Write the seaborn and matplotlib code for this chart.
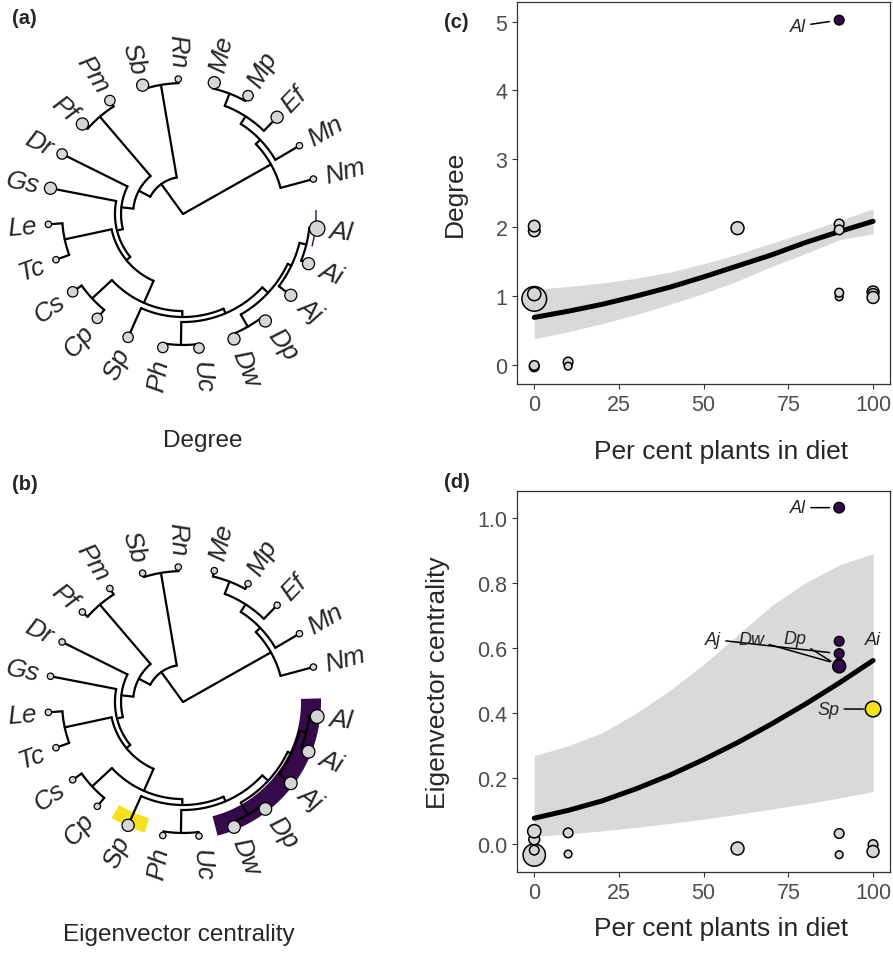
import numpy as np
import pandas as pd
import matplotlib
matplotlib.use("Agg")
import matplotlib.pyplot as plt
import seaborn as sns

# ---------------- tree data ----------------
# species in tip order round the fan (counter-clockwise from the open gap)
tips = ["Nm", "Mn", "Ef", "Mp", "Me", "Rn", "Sb", "Pm", "Pf", "Dr", "Gs", "Le",
        "Tc", "Cs", "Cp", "Sp", "Ph", "Uc", "Dw", "Dp", "Aj", "Ai", "Al"]
tip_degree = [0, 0, 2, 1, 2, 0, 2, 1, 2, 1, 2, 0,
              0, 1, 1, 1, 1, 1, 2, 2, 2, 2, 5]
tip_eigen = [0, 0, 0, 0, 0, 0, 0, 0, 0, 0, 0, 0,
             0, 0, 0, 0.41, 0, 0, 0.55, 0.54, 0.58, 0.62, 1.03]

# internal nodes (children listed before parents), depth as fraction of tip depth
node_names = ["N4", "N3", "N2", "N1", "RS", "PP", "LT", "CC", "PU", "DD", "AA",
              "M", "L", "K", "J", "I", "G", "F", "E", "C", "B", "root"]
node_children = [("Mp", "Me"), ("Ef", "N4"), ("Mn", "N3"), ("Nm", "N2"),
                 ("Rn", "Sb"), ("Pm", "Pf"), ("Le", "Tc"), ("Cs", "Cp"),
                 ("Ph", "Uc"), ("Dw", "Dp"), ("Ai", "Al"), ("Aj", "AA"),
                 ("DD", "M"), ("PU", "L"), ("Sp", "K"), ("CC", "J"),
                 ("LT", "I"), ("Gs", "G"), ("Dr", "F"), ("PP", "E"),
                 ("RS", "C"), ("N1", "B")]
node_depth = [0.956, 0.859, 0.793, 0.748, 0.970, 0.948, 0.896, 0.919, 0.970,
              0.963, 0.941, 0.889, 0.859, 0.800, 0.763, 0.719, 0.541, 0.504,
              0.459, 0.370, 0.274, 0.0]

hub_clade = ["Dw", "Dp", "Aj", "Ai", "Al"]
sp_clade = ["Sp"]

# ---------------- scatter data ----------------
plants_c = [0, 0, 0, 0, 0, 0, 10, 10, 60, 90, 90, 90, 90, 100, 100, 100, 90]
degree_c = [1.95, 2.02, 0.96, 1.03, -0.03, -0.01, 0.04, -0.02, 1.99,
            2.05, 1.965, 0.99, 1.05, 1.06, 1.03, 0.98, 5.02]
weight_c = [1.6, 1.6, 7.3, 2.1, 1.1, 1.1, 1.1, 0.7, 2.0,
            1.1, 1.1, 0.7, 0.9, 1.7, 1.4, 1.7, 1.1]
group_c = ["other"] * 16 + ["hub"]
label_c = [""] * 16 + ["Al"]

plants_d = [0, 0, 0, 0, 10, 10, 60, 90, 90, 100, 100, 90, 90, 90, 90, 90, 100]
eigen_d = [-0.035, -0.02, 0.013, 0.038, 0.033, -0.032, -0.015, 0.031, -0.034,
           -0.003, -0.024, 1.031, 0.621, 0.583, 0.55, 0.544, 0.413]
weight_d = [6.0, 1.1, 1.4, 2.1, 1.1, 0.7, 2.0, 1.1, 0.7, 1.1, 1.7,
            1.3, 1.1, 1.1, 1.4, 2.0, 2.9]
group_d = ["other"] * 11 + ["hub"] * 5 + ["sp"]
label_d = [""] * 11 + ["Al", "Ai", "Aj", "Dw", "Dp", "Sp"]

# fitted curves
fit_x = [0, 10, 20, 30, 40, 50, 60, 70, 80, 90, 100]
fit_c = [0.69, 0.78, 0.88, 1.00, 1.13, 1.28, 1.44, 1.60, 1.78, 1.94, 2.09]
lo_c = [0.38, 0.48, 0.60, 0.73, 0.88, 1.04, 1.22, 1.43, 1.62, 1.82, 1.91]
hi_c = [1.10, 1.14, 1.19, 1.26, 1.35, 1.47, 1.61, 1.77, 1.93, 2.10, 2.27]
fit_d = [0.078, 0.102, 0.131, 0.168, 0.210, 0.258, 0.310, 0.367, 0.428, 0.493, 0.562]
lo_d = [0.022, 0.030, 0.039, 0.050, 0.062, 0.075, 0.090, 0.106, 0.122, 0.140, 0.160]
hi_d = [0.27, 0.30, 0.34, 0.40, 0.47, 0.55, 0.64, 0.73, 0.80, 0.855, 0.89]

PURPLE = "#35094a"
YELLOW = "#f7e11f"
GREY = "#d6d6d6"
R_TIP = 135
START, STEP = 15.0, 15.4

sns.set_theme(style="white")
plt.rcParams["font.family"] = ["Liberation Sans", "DejaVu Sans"]

fig = plt.figure(figsize=(8.93, 9.54), dpi=100)
W, H = 893, 954


def polar(r, a):
    a = np.radians(a)
    return r * np.cos(a), r * np.sin(a)


def tree_layout():
    ang = {t: START + i * STEP for i, t in enumerate(tips)}
    rad = {t: R_TIP for t in tips}
    for name, kids, d in zip(node_names, node_children, node_depth):
        ang[name] = np.mean([ang[k] for k in kids])
        rad[name] = d * R_TIP
    return ang, rad


def sector(ax, a0, a1, r0, r1, color, z=0):
    th = np.linspace(a0, a1, 80)
    xo, yo = polar(r1, th)
    xi, yi = polar(r0, th[::-1])
    ax.fill(np.r_[xo, xi], np.r_[yo, yi], color=color, lw=0, zorder=z)


def draw_tree(ax, sizes, title, title_xy):
    ang, rad = tree_layout()
    for name, kids in zip(node_names, node_children):
        r0 = rad[name]
        al = [ang[k] for k in kids]
        if r0 > 0:
            th = np.linspace(min(al), max(al), 60)
            ax.plot(*polar(r0, th), color="black", lw=1.6, zorder=2,
                    solid_capstyle="round")
        for k in kids:
            x0, y0 = polar(r0, ang[k])
            x1, y1 = polar(rad[k], ang[k])
            ax.plot([x0, x1], [y0, y1], color="black", lw=1.6, zorder=2,
                    solid_capstyle="round")
    xs, ys = polar(R_TIP, np.array([ang[t] for t in tips]))
    ax.scatter(xs, ys, s=sizes, facecolor=GREY, edgecolor="black",
               linewidth=0.9, zorder=3)
    for t in tips:
        a = ang[t] % 360
        x, y = polar(147, a)
        if 90 < a < 270:
            rot, ha = a - 180, "right"
        else:
            rot, ha = (a if a < 90 else a - 360), "left"
        ax.text(x, y, t, rotation=rot, ha=ha, va="center",
                rotation_mode="anchor", fontsize=19, fontstyle="italic")
    ax.text(title_xy[0], title_xy[1], title, ha="center", va="center",
            fontsize=17.5)
    ax.axis("off")
    return ang


def deg_size(v):
    d = 6 + 9 * np.sqrt(np.asarray(v) / 5.0)
    return (0.72 * (d + 0.4)) ** 2


def eig_size(v):
    v = np.asarray(v, dtype=float)
    d = np.where(v > 0, 6 + 7.3 * (v / v.max()) ** 0.25, 6.0)
    return (0.72 * (d + 0.4)) ** 2


# ---- (a) tree: degree ----
ax_a = fig.add_axes([0, 1 - 470 / H, 420 / W, 470 / H])
ax_a.set_xlim(-183, 237)
ax_a.set_ylim(-255, 215)
ang = draw_tree(ax_a, deg_size(tip_degree), "Degree", (20, -226))
a_al = ang["Al"]
th = np.linspace(a_al - STEP / 2, a_al + STEP / 2, 30)
ax_a.plot(*polar(133, th), color=PURPLE, lw=1.0, zorder=1)

# ---- (b) tree: eigenvector centrality ----
ax_b = fig.add_axes([0, 0, 420 / W, 477 / H])
ax_b.set_xlim(-183, 237)
ax_b.set_ylim(-251, 226)
ang, _ = tree_layout()
hub_a = [ang[t] for t in hub_clade]
sector(ax_b, min(hub_a) - STEP / 2, max(hub_a) + STEP / 2, 118, 138, PURPLE)
sp_a = [ang[t] for t in sp_clade]
sector(ax_b, min(sp_a) - STEP / 2, max(sp_a) + STEP / 2, 121, 136, YELLOW)
draw_tree(ax_b, eig_size(tip_eigen), "Eigenvector centrality", (-4, -232))

# ---- scatter panels ----
palette = {"other": GREY, "hub": PURPLE, "sp": YELLOW}


def scatter_panel(rect, xs, ys, ws, groups, labels, fy, lo, hi, ylim, yticks,
                  yfmt, ylabel, ylab_x, xlab_y, offsets):
    ax = fig.add_axes(rect)
    ax.fill_between(fit_x, lo, hi, color="#d9d9d9", lw=0, zorder=1)
    sns.lineplot(x=fit_x, y=fy, color="black", lw=3.6, ax=ax, zorder=2)
    df = pd.DataFrame({"x": xs, "y": ys, "w": ws, "g": groups, "lab": labels})
    sns.scatterplot(data=df, x="x", y="y", size="w", sizes=(22, 345),
                    size_norm=(0.5, 8.0), hue="g", palette=palette,
                    edgecolor="black", linewidth=1.1, legend=False, ax=ax,
                    zorder=3)
    for _, row in df[df["lab"] != ""].iterrows():
        dx, dy, arrow = offsets[row["lab"]]
        props = dict(arrowstyle="-", color="black", lw=1.1, shrinkA=1,
                     shrinkB=7) if arrow else None
        ax.annotate(row["lab"], xy=(row["x"], row["y"]), xytext=(dx, dy),
                    textcoords="offset points", ha="center", va="center",
                    fontsize=13, fontstyle="italic", arrowprops=props,
                    zorder=4)
    ax.set_xlim(-5, 105)
    ax.set_ylim(*ylim)
    ax.set_xticks([0, 25, 50, 75, 100])
    ax.set_yticks(yticks)
    ax.set_yticklabels([yfmt.format(v) for v in yticks])
    ax.tick_params(length=3.6, width=0.8, color="#333333", labelsize=15.5,
                   labelcolor="#4d4d4d", pad=3.5, left=True, bottom=True)
    for s in ax.spines.values():
        s.set_color("#333333")
        s.set_linewidth(0.9)
    ax.set_xlabel("Per cent plants in diet", fontsize=19)
    ax.set_ylabel(ylabel, fontsize=19)
    ax.xaxis.set_label_coords(0.547, xlab_y)
    ax.yaxis.set_label_coords(ylab_x, 0.5)
    return ax


off_c = {"Al": (-29.5, -4.3, True)}
scatter_panel([517.3 / W, 1 - 385 / H, 372.7 / W, 381.7 / H],
              plants_c, degree_c, weight_c, group_c, label_c,
              fit_c, lo_c, hi_c, (-0.28, 5.28), [0, 1, 2, 3, 4, 5], "{:.0f}",
              "Degree", -0.135, -0.144, off_c)

off_d = {"Al": (-29.5, 0, True), "Ai": (24.5, 1.2, False),
         "Aj": (-90.7, 10.2, True), "Dw": (-63.1, 17.9, True),
         "Dp": (-31.9, 19.8, True), "Sp": (-32, 0, True)}
scatter_panel([517.3 / W, 1 - 873.3 / H, 372.7 / W, 381.6 / H],
              plants_d, eigen_d, weight_d, group_d, label_d,
              fit_d, lo_d, hi_d, (-0.088, 1.083), [0, 0.2, 0.4, 0.6, 0.8, 1.0],
              "{:.1f}", "Eigenvector centrality", -0.18, -0.114, off_d)

# panel letters
for txt, x, y in [("(a)", 12, 18), ("(b)", 12, 485), ("(c)", 444, 22),
                  ("(d)", 444, 483)]:
    fig.text(x / W, 1 - y / H, txt, fontsize=14.5, fontweight="bold",
             ha="left", va="center")

fig.savefig("out.png", dpi=100)
